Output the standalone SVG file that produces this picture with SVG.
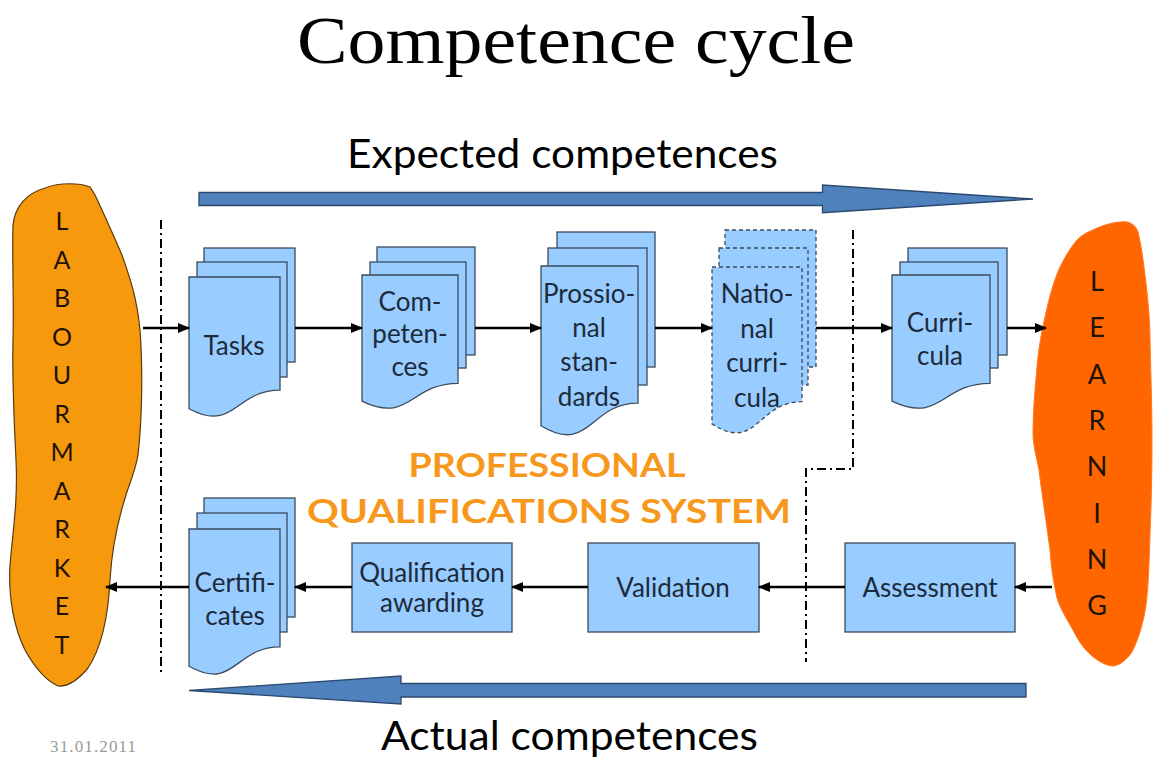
<svg xmlns="http://www.w3.org/2000/svg" width="1154" height="757" viewBox="0 0 1154 757">
<defs>
<style>
.sheet{fill:#99CCFF;stroke:#3a4b5e;stroke-width:1.3}
.dsheet{fill:#99CCFF;stroke:#3a4b5e;stroke-width:1.3;stroke-dasharray:4 3}
.box{fill:#99CCFF;stroke:#3a4b5e;stroke-width:1.3}
.lbl{font-family:Lato,"Liberation Sans",sans-serif;font-size:26px;fill:#1c2b3c;text-anchor:middle}
.blob{font-family:Lato,"Liberation Sans",sans-serif;font-size:25px;fill:#1e1206;text-anchor:middle}
.blob2{font-family:Lato,"Liberation Sans",sans-serif;font-size:27px;fill:#1e1206;text-anchor:middle}
.conn{stroke:#000;stroke-width:2.5;fill:none}
.sep{stroke:#000;stroke-width:2;fill:none;stroke-dasharray:9 4 2 4}
.bigarrow{fill:#4F81BD;stroke:#2c4a70;stroke-width:1.3}
.cap{font-family:Lato,"Liberation Sans",sans-serif;font-size:40px;fill:#000}
.pqs{font-family:Lato,"Liberation Sans",sans-serif;font-weight:bold;font-size:33px;fill:#F7981D;text-anchor:middle}
</style>
<marker id="ah" markerUnits="userSpaceOnUse" markerWidth="12" markerHeight="10" refX="11" refY="5" orient="auto">
<path d="M0,0 L12,5 L0,10 Z" fill="#000"/>
</marker>
</defs>

<text x="576" y="63" font-family="'Liberation Serif',serif" font-size="68" fill="#000" text-anchor="middle" textLength="558" lengthAdjust="spacingAndGlyphs">Competence cycle</text>

<g id="expected-arrow">
<path class="bigarrow" d="M199,192.5 H822.5 V185 L1033,199 L822.5,212.7 V205.5 H199 Z"/>
<text class="cap" x="347" y="168" textLength="431" lengthAdjust="spacingAndGlyphs">Expected competences</text>
</g>

<g id="actual-arrow">
<path class="bigarrow" d="M1026,683.5 H401 V676 L189,690.5 L401,704 V697 H1026 Z"/>
<text class="cap" x="381" y="750" textLength="377" lengthAdjust="spacingAndGlyphs">Actual competences</text>
</g>

<text x="50" y="752" font-family="'Liberation Serif',serif" font-size="17" fill="#999" textLength="86">31.01.2011</text>

<g id="labourmarket">
<path fill="#F7990C" stroke="#5a3a10" stroke-width="1.2" d="M45,188 C60,182 80,183 90,187 L95,195 C103,212 112,232 122,255 C130,278 137,298 140,330 C143,370 142,420 138,455 C135,472 130,482 126,495 C118,520 112,545 110,580 C108,620 100,650 88,668 C78,680 68,687 58,686 C45,680 35,668 25,650 C15,630 8,600 10,565 C13,530 18,500 16,460 C14,420 12,380 13,340 C14,300 12,260 13,225 C15,205 28,193 45,188 Z"/>
<text class="blob" x="62" y="230">L</text>
<text class="blob" x="62" y="268.5">A</text>
<text class="blob" x="62" y="307">B</text>
<text class="blob" x="62" y="345.5">O</text>
<text class="blob" x="62" y="384">U</text>
<text class="blob" x="62" y="422.5">R</text>
<text class="blob" x="62" y="461">M</text>
<text class="blob" x="62" y="499.5">A</text>
<text class="blob" x="62" y="538">R</text>
<text class="blob" x="62" y="576.5">K</text>
<text class="blob" x="62" y="615">E</text>
<text class="blob" x="62" y="653.5">T</text>
</g>

<g id="learning">
<path fill="#FF6600" stroke="#FF7A20" stroke-width="1" d="M1093,230 C1105,224 1118,221 1127,222 C1132,223 1136,226 1138,232 C1141,245 1143,258 1145,275 C1148,300 1150,320 1150,340 C1151,380 1152,410 1152,440 C1152,480 1151,510 1150,535 C1149,570 1148,590 1146,605 C1143,625 1138,640 1132,652 C1125,662 1118,666 1112,666 C1105,665 1098,661 1092,656 C1083,648 1078,640 1073,630 C1066,618 1060,608 1057,598 C1053,580 1051,565 1050,550 C1046,520 1042,495 1039,470 C1036,455 1033,445 1033,433 C1033,410 1035,390 1037,367 C1039,345 1042,330 1045,317 C1049,298 1054,280 1060,267 C1066,255 1071,247 1077,240 C1082,235 1087,232 1093,230 Z"/>
<text class="blob2" x="1097" y="291">L</text>
<text class="blob2" x="1097" y="337.3">E</text>
<text class="blob2" x="1097" y="383.6">A</text>
<text class="blob2" x="1097" y="429.9">R</text>
<text class="blob2" x="1097" y="476.2">N</text>
<text class="blob2" x="1097" y="522.5">I</text>
<text class="blob2" x="1097" y="568.8">N</text>
<text class="blob2" x="1097" y="615.1">G</text>
</g>

<g id="separators">
<path class="sep" d="M161,220 V672"/>
<path class="sep" d="M853,230 V469 H806 V662"/>
</g>

<g id="tasks">
<rect class="sheet" x="204" y="248" width="91" height="114"/>
<rect class="sheet" x="197" y="262" width="90" height="115"/>
<path class="sheet" d="M189,277 H280 V390.1 C234.5,390.1 234.5,433.1 189,408.7 Z"/>
<text class="lbl" x="234" y="355">Tasks</text>
</g>

<g id="competences">
<rect class="sheet" x="377" y="247" width="98" height="108"/>
<rect class="sheet" x="370" y="262" width="96" height="106"/>
<path class="sheet" d="M362,275 H458 V383.3 C410,383.3 410,424.4 362,401.1 Z"/>
<text class="lbl" x="410" y="311">Com-</text>
<text class="lbl" x="410" y="343">peten-</text>
<text class="lbl" x="410" y="376">ces</text>
</g>

<g id="professional-standards">
<rect class="sheet" x="557" y="232" width="98" height="135"/>
<rect class="sheet" x="548" y="248" width="99" height="137"/>
<path class="sheet" d="M541,266 H638 V403.1 C589.5,403.1 589.5,455.3 541,425.7 Z"/>
<text class="lbl" x="589" y="303">Prossio-</text>
<text class="lbl" x="589" y="337">nal</text>
<text class="lbl" x="589" y="371">stan-</text>
<text class="lbl" x="589" y="406">dards</text>
</g>

<g id="national-curricula">
<rect class="dsheet" x="725" y="230" width="91" height="137"/>
<rect class="dsheet" x="719" y="248" width="89" height="137"/>
<path class="dsheet" d="M712,267 H802 V401.7 C757,401.7 757,453 712,423.9 Z"/>
<text class="lbl" x="757" y="303">Natio-</text>
<text class="lbl" x="757" y="338">nal</text>
<text class="lbl" x="757" y="372">curri-</text>
<text class="lbl" x="757" y="407">cula</text>
</g>

<g id="curricula">
<rect class="sheet" x="908" y="248" width="99" height="107"/>
<rect class="sheet" x="900" y="262" width="98" height="106"/>
<path class="sheet" d="M892,275 H990 V383.3 C941,383.3 941,424.4 892,401.1 Z"/>
<text class="lbl" x="940" y="332">Curri-</text>
<text class="lbl" x="940" y="365">cula</text>
</g>

<g id="certificates">
<rect class="sheet" x="204" y="498" width="91" height="119"/>
<rect class="sheet" x="197" y="513" width="90" height="119"/>
<path class="sheet" d="M189,529 H280 V646.9 C234.5,646.9 234.5,691.7 189,666.3 Z"/>
<text class="lbl" x="235" y="592">Certifi-</text>
<text class="lbl" x="235" y="625">cates</text>
</g>

<g id="qualification-awarding">
<rect class="box" x="352" y="543" width="160" height="89"/>
<text class="lbl" x="432" y="582">Qualification</text>
<text class="lbl" x="432" y="612">awarding</text>
</g>

<g id="validation">
<rect class="box" x="588" y="543" width="171" height="89"/>
<text class="lbl" x="673" y="597">Validation</text>
</g>

<g id="assessment">
<rect class="box" x="845" y="543" width="170" height="89"/>
<text class="lbl" x="930" y="597">Assessment</text>
</g>

<g id="pqs-label">
<text class="pqs" x="547" y="477" textLength="277" lengthAdjust="spacingAndGlyphs">PROFESSIONAL</text>
<text class="pqs" x="549" y="523" textLength="484" lengthAdjust="spacingAndGlyphs">QUALIFICATIONS SYSTEM</text>
</g>

<g id="connectors">
<path class="conn" marker-end="url(#ah)" d="M143,328 H189"/>
<path class="conn" marker-end="url(#ah)" d="M295,328 H362"/>
<path class="conn" marker-end="url(#ah)" d="M475,328 H541"/>
<path class="conn" marker-end="url(#ah)" d="M655,328 H712"/>
<path class="conn" marker-end="url(#ah)" d="M816,328 H892"/>
<path class="conn" marker-end="url(#ah)" d="M1007,328 H1046"/>
<path class="conn" marker-end="url(#ah)" d="M1052,587 H1015"/>
<path class="conn" marker-end="url(#ah)" d="M845,587 H759"/>
<path class="conn" marker-end="url(#ah)" d="M588,587 H512"/>
<path class="conn" marker-end="url(#ah)" d="M352,587 H295"/>
<path class="conn" marker-end="url(#ah)" d="M189,587 H106"/>
</g>
</svg>
